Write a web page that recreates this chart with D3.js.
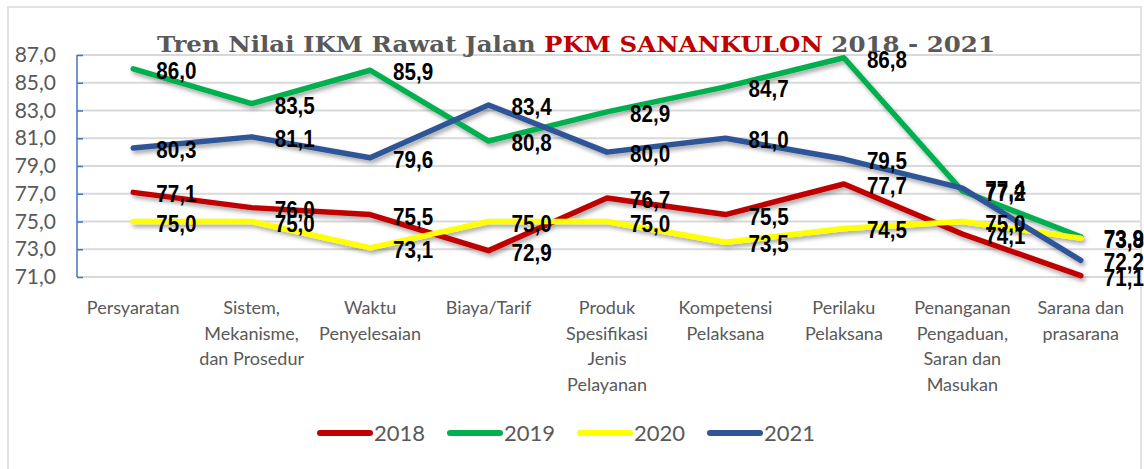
<!DOCTYPE html>
<html>
<head>
<meta charset="utf-8">
<script src="https://cdn.jsdelivr.net/npm/d3@7"></script>
<style>
  body { margin: 0; background: #fff; }
  svg { display: block; }
</style>
</head>
<body>
<script>
const w = 1144;
const h = 469;

// data
const categories = [
  "Persyaratan",
  "Sistem,\nMekanisme,\ndan Prosedur",
  "Waktu\nPenyelesaian",
  "Biaya/Tarif",
  "Produk\nSpesifikasi\nJenis\nPelayanan",
  "Kompetensi\nPelaksana",
  "Perilaku\nPelaksana",
  "Penanganan\nPengaduan,\nSaran dan\nMasukan",
  "Sarana dan\nprasarana"
];
const years = ["2018", "2019", "2020", "2021"];
const v2018 = [77.1, 76.0, 75.5, 72.9, 76.7, 75.5, 77.7, 74.1, 71.1];
const v2019 = [86.0, 83.5, 85.9, 80.8, 82.9, 84.7, 86.8, 77.2, 73.9];
const v2020 = [75.0, 75.0, 73.1, 75.0, 75.0, 73.5, 74.5, 75.0, 73.8];
const v2021 = [80.3, 81.1, 79.6, 83.4, 80.0, 81.0, 79.5, 77.4, 72.2];
const yTicks = [71, 73, 75, 77, 79, 81, 83, 85, 87];
const colors = ["#C00000", "#00B050", "#FFFF00", "#2F5597"];

const series = [v2018, v2019, v2020, v2021].map((vals, i) => ({
  name: years[i], color: colors[i], values: vals
}));

const idLocale = d3.formatLocale({decimal: ",", thousands: ".", grouping: [3], currency: ["", ""]});
const fmt = idLocale.format(".1f");

const x = d3.scaleBand().domain(categories).range([74, 1140]);
const cx = c => x(c) + x.bandwidth() / 2;
const y = d3.scaleLinear().domain([71, 87]).range([277, 55]);

const svg = d3.select("body")
  .append("svg")
  .attr("width", w)
  .attr("height", h);

const defs = svg.append("defs");
defs.append("filter")
  .attr("id", "shadow")
  .attr("x", "-5%").attr("y", "-20%")
  .attr("width", "110%").attr("height", "140%")
  .append("feDropShadow")
  .attr("dx", 2).attr("dy", 3)
  .attr("stdDeviation", 2)
  .attr("flood-color", "#000")
  .attr("flood-opacity", 0.35);

// chart frame
svg.append("rect")
  .attr("x", 8).attr("y", 7)
  .attr("width", 1133).attr("height", 480)
  .attr("fill", "none")
  .attr("stroke", "#d9d9d9")
  .attr("stroke-width", 1.5);

// gridlines
svg.append("g")
  .selectAll("line")
  .data(yTicks)
  .enter().append("line")
  .attr("x1", 77).attr("x2", 1140)
  .attr("y1", d => y(d)).attr("y2", d => y(d))
  .attr("stroke", "#d9d9d9")
  .attr("stroke-width", 2);

// y axis
const yAxis = svg.append("g")
  .attr("transform", "translate(77,0)")
  .call(d3.axisRight(y).tickValues(yTicks).tickSize(6).tickFormat(""));
yAxis.selectAll("path, line").attr("stroke", "#4472C4").attr("stroke-width", 1.5);
yAxis.select(".domain").attr("d", `M0,${y(87)}V${y(71)}`);

svg.append("g")
  .selectAll("text")
  .data(yTicks)
  .enter().append("text")
  .attr("x", 56)
  .attr("y", d => y(d) + 7)
  .attr("text-anchor", "end")
  .attr("font-family", "Lato, 'Open Sans', sans-serif")
  .attr("font-size", 21)
  .attr("fill", "#595959")
  .text(d => fmt(d));

// x labels
const xl = svg.append("g")
  .selectAll("text")
  .data(categories)
  .enter().append("text")
  .attr("text-anchor", "middle")
  .attr("font-family", "Lato, 'Open Sans', sans-serif")
  .attr("font-size", 18)
  .attr("fill", "#595959");
xl.each(function(c) {
  d3.select(this).selectAll("tspan")
    .data(c.split("\n"))
    .enter().append("tspan")
    .attr("x", cx(c))
    .attr("y", (d, i) => 314 + i * 25.5)
    .text(d => d);
});

// lines
const line = d3.line()
  .x((d, i) => cx(categories[i]))
  .y(d => y(d));

svg.append("g")
  .attr("filter", "url(#shadow)")
  .selectAll("path")
  .data(series)
  .enter().append("path")
  .attr("d", d => line(d.values))
  .attr("fill", "none")
  .attr("stroke", d => d.color)
  .attr("stroke-width", 5.5)
  .attr("stroke-linejoin", "round")
  .attr("stroke-linecap", "round");

// data labels
series.forEach(s => {
  svg.append("g")
    .selectAll("text")
    .data(s.values)
    .enter().append("text")
    .attr("transform", (d, i) => `translate(${cx(categories[i]) + 23},${y(d) + 10}) scale(0.86,1)`)
    .attr("font-family", "'Liberation Sans', Arial, sans-serif")
    .attr("font-weight", "bold")
    .attr("font-size", 24)
    .attr("fill", "#000")
    .text(d => fmt(d));
});

// legend
const legend = svg.append("g")
  .attr("id", "legend")
  .selectAll("g")
  .data(series)
  .enter().append("g")
  .attr("transform", (d, i) => `translate(${318 + i * 130},433)`);
legend.append("line")
  .attr("x1", 2).attr("x2", 52)
  .attr("stroke", d => d.color)
  .attr("stroke-width", 6)
  .attr("stroke-linecap", "round");
legend.append("text")
  .attr("x", 56).attr("y", 8)
  .attr("font-family", "Lato, 'Open Sans', sans-serif")
  .attr("font-size", 22)
  .attr("fill", "#595959")
  .text(d => d.name);

// title
const title = svg.append("text")
  .attr("x", 157).attr("y", 52)
  .attr("font-family", "'DejaVu Serif', serif")
  .attr("font-weight", "bold")
  .attr("font-size", 23)
  .attr("fill", "#595959")
  .attr("textLength", 838)
  .attr("lengthAdjust", "spacingAndGlyphs");
title.append("tspan").text("Tren Nilai IKM Rawat Jalan ");
title.append("tspan").attr("fill", "#C00000").text("PKM SANANKULON");
title.append("tspan").text(" 2018 - 2021");
</script>
</body>
</html>
